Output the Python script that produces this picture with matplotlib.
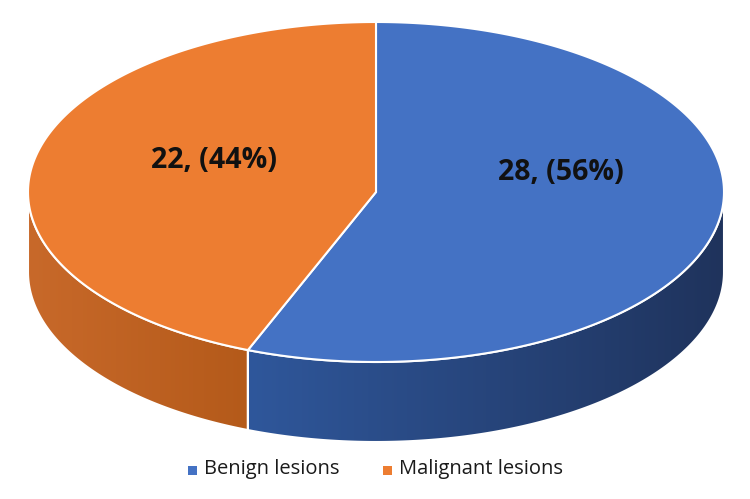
import numpy as np
import matplotlib.pyplot as plt
from matplotlib.patches import Polygon, Rectangle
from matplotlib.colors import LinearSegmentedColormap

# data
categories = ["Benign lesions", "Malignant lesions"]
counts = [28, 22]
top_colors = ["#4472C4", "#ED7D31"]
side_colors = [("#2F579B", "#1F335C"), ("#C8692A", "#B45A1A")]

# geometry of the fake 3d pie (pixel space)
cx, cy = 376, 192
rx, ry = 348, 170
depth = 80

fig = plt.figure(figsize=(7.5, 4.99), dpi=100)
ax = fig.add_axes([0, 0, 1, 1])
ax.set_xlim(0, 750)
ax.set_ylim(499, 0)
ax.axis("off")


def ellipse_pts(a0, a1, n=200, dy=0):
    # angles in degrees, clockwise from 12 o'clock
    t = np.radians(np.linspace(a0, a1, n))
    return np.column_stack([cx + rx * np.sin(t), cy - ry * np.cos(t) + dy])


total = sum(counts)
starts = np.cumsum([0] + counts[:-1]) / total * 360
ends = np.cumsum(counts) / total * 360

# side faces (only the front half, 90..270 deg is visible)
for i in range(len(counts)):
    a0, a1 = max(starts[i], 90), min(ends[i], 270)
    if a1 <= a0:
        continue
    top = ellipse_pts(a0, a1)
    bot = ellipse_pts(a1, a0, dy=depth)
    poly = Polygon(np.vstack([top, bot]), closed=True, facecolor="none",
                   edgecolor="white", lw=1.5, zorder=2)
    ax.add_patch(poly)
    xs = np.vstack([top, bot])[:, 0]
    cmap = LinearSegmentedColormap.from_list("s", [side_colors[i][0], side_colors[i][1]])
    grad = np.linspace(0, 1, 256).reshape(1, -1)
    # left part lighter -> right darker
    im = ax.imshow(grad, cmap=cmap, aspect="auto",
                   extent=[xs.min(), xs.max(), cy + ry + depth + 5, cy - 5], zorder=1)
    im.set_clip_path(poly)

# top faces
for i in range(len(counts)):
    arc = ellipse_pts(starts[i], ends[i])
    pts = np.vstack([[cx, cy], arc])
    ax.add_patch(Polygon(pts, closed=True, facecolor=top_colors[i],
                         edgecolor="white", lw=1.5, zorder=3))

# labels
labels = [f"{c}, ({c / total * 100:.0f}%)" for c in counts]
label_pos = [(561, 172), (214, 160)]
for lab, (x, y) in zip(labels, label_pos):
    ax.text(x, y, lab, ha="center", va="center", fontsize=20.5, fontweight="bold",
            color="#111111", family="Open Sans", zorder=4)

# legend
leg_x = [188, 383]
for i, name in enumerate(categories):
    ax.add_patch(Rectangle((leg_x[i], 466), 9, 9, facecolor=top_colors[i], zorder=4))
    ax.text(leg_x[i] + 16, 469, name, ha="left", va="center", fontsize=14.5,
            color="#1a1a1a", family="Open Sans", zorder=4)

fig.savefig("out.png", dpi=100)
